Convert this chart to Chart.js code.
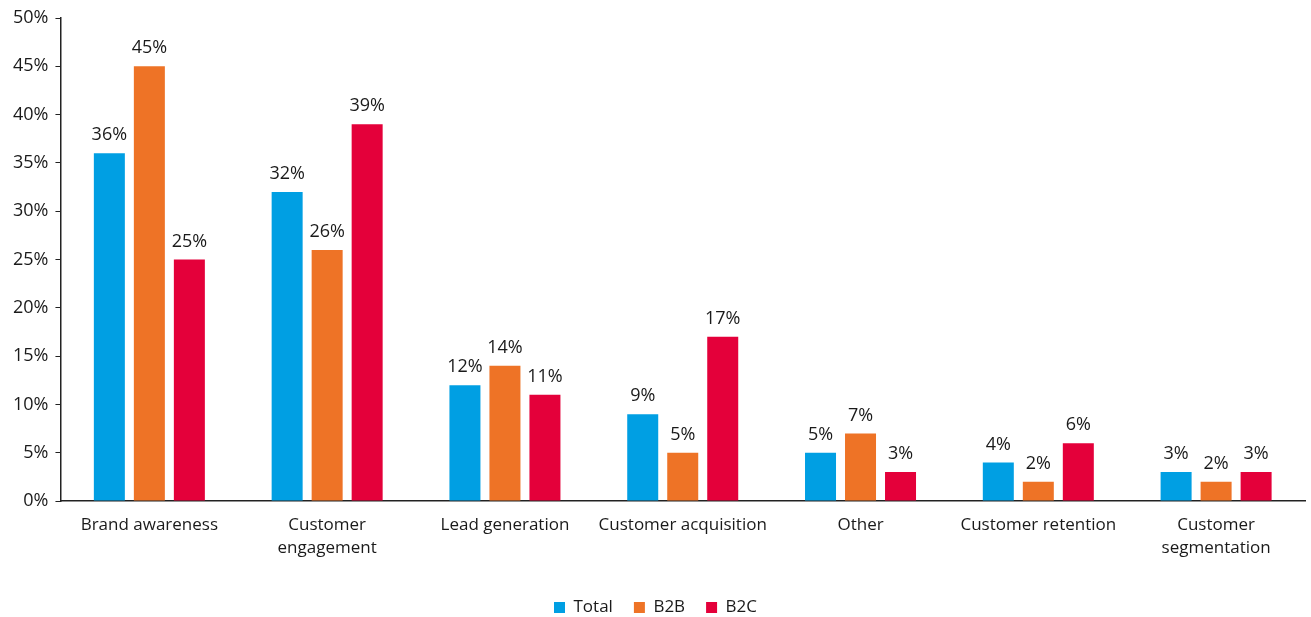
<!DOCTYPE html>
<html>
<head>
    <title>Goals chart</title>
    <style>
        body {
            margin: 0;
            background: #fff;
        }
        .chart-container {
            width: 1311px;
            height: 617px;
            position: relative;
        }
    </style>
    <script src="https://cdn.jsdelivr.net/npm/chart.js"></script>
</head>
<body>
    <div class="chart-container">
        <canvas id="goalsChart"></canvas>
    </div>

    <script>
        // chart data
        const categories = [
            'Brand awareness',
            ['Customer', 'engagement'],
            'Lead generation',
            'Customer acquisition',
            'Other',
            'Customer retention',
            ['Customer', 'segmentation']
        ];
        const totalValues = [36, 32, 12, 9, 5, 4, 3];
        const b2bValues = [45, 26, 14, 5, 7, 2, 2];
        const b2cValues = [25, 39, 11, 17, 3, 6, 3];
        const yTicks = [0, 5, 10, 15, 20, 25, 30, 35, 40, 45, 50];

        const fontFamily = '"Open Sans", "Noto Sans", sans-serif';
        const textColor = '#1a1a1a';

        // draws the value above each bar
        const valueLabels = {
            id: 'valueLabels',
            afterDatasetsDraw(chart) {
                const ctx = chart.ctx;
                ctx.save();
                ctx.font = '18px ' + fontFamily;
                ctx.fillStyle = textColor;
                ctx.textAlign = 'center';
                ctx.textBaseline = 'bottom';
                chart.data.datasets.forEach((ds, i) => {
                    chart.getDatasetMeta(i).data.forEach((bar, j) => {
                        ctx.fillText(ds.data[j] + '%', bar.x, bar.y - 9);
                    });
                });
                ctx.restore();
            }
        };

        const ctx = document.getElementById('goalsChart').getContext('2d');
        new Chart(ctx, {
            type: 'bar',
            data: {
                labels: categories,
                datasets: [
                    { label: 'Total', data: totalValues, backgroundColor: '#009FE3' },
                    { label: 'B2B', data: b2bValues, backgroundColor: '#EE7326' },
                    { label: 'B2C', data: b2cValues, backgroundColor: '#E4003A' }
                ]
            },
            options: {
                responsive: true,
                maintainAspectRatio: false,
                animation: false,
                categoryPercentage: 0.675,
                barPercentage: 0.775,
                layout: {
                    padding: { top: 18, right: 6, bottom: -9, left: 6 }
                },
                scales: {
                    x: {
                        afterFit(scale) {
                            scale.height += 5;
                        },
                        grid: { drawOnChartArea: false, drawTicks: false },
                        border: { display: true, color: '#222', width: 1.5 },
                        ticks: {
                            padding: 13,
                            color: textColor,
                            font: { family: fontFamily, size: 17, lineHeight: 1.35 },
                            maxRotation: 0,
                            autoSkip: false
                        }
                    },
                    y: {
                        min: 0,
                        max: 50,
                        afterBuildTicks(axis) {
                            axis.ticks = yTicks.map(v => ({ value: v }));
                        },
                        grid: { drawOnChartArea: false, drawTicks: true, tickLength: 5, color: '#222' },
                        border: { display: true, color: '#222', width: 1.5 },
                        ticks: {
                            padding: 7,
                            color: textColor,
                            font: { family: fontFamily, size: 18 },
                            callback: v => v + '%'
                        }
                    }
                },
                plugins: {
                    legend: {
                        position: 'bottom',
                        labels: {
                            boxWidth: 11,
                            boxHeight: 11,
                            padding: 21,
                            color: textColor,
                            font: { family: fontFamily, size: 17 }
                        }
                    },
                    tooltip: { enabled: false }
                }
            },
            plugins: [valueLabels]
        });
    </script>
</body>
</html>
